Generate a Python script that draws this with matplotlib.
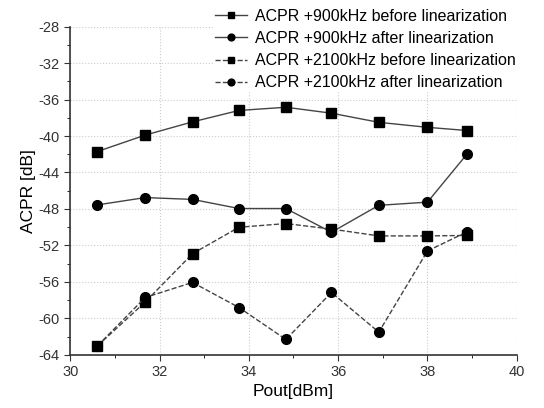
import numpy as np
import matplotlib.pyplot as plt

plt.rcParams['font.family'] = ['Liberation Sans', 'DejaVu Sans']
plt.rcParams['axes.unicode_minus'] = False

# data
pout = [30.61, 31.68, 32.74, 33.78, 34.83, 35.85, 36.91, 38.0, 38.89]
acpr_900_before = [-41.7, -39.9, -38.45, -37.2, -36.85, -37.5, -38.5, -39.05, -39.4]
acpr_900_after = [-47.55, -46.75, -46.95, -47.95, -47.95, -50.55, -47.6, -47.25, -41.95]
acpr_2100_before = [-63.0, -58.2, -52.9, -50.0, -49.6, -50.2, -50.95, -50.95, -50.9]
acpr_2100_after = [-63.0, -57.7, -56.05, -58.8, -62.3, -57.15, -61.5, -52.6, -50.5]

labels = ['ACPR +900kHz before linearization',
          'ACPR +900kHz after linearization',
          'ACPR +2100kHz before linearization',
          'ACPR +2100kHz after linearization']

fig = plt.figure(figsize=(5.44, 4.08), dpi=100)
ax = fig.add_axes([0.129, 0.130, 0.821, 0.805])

lc = '#444444'
ax.plot(pout, acpr_900_before, '-', color=lc, lw=1, marker='s', ms=6.5,
        mfc='black', mec='black', label=labels[0])
ax.plot(pout, acpr_900_after, '-', color=lc, lw=1, marker='o', ms=7,
        mfc='black', mec='black', label=labels[1])
ax.plot(pout, acpr_2100_before, '--', color=lc, lw=1, marker='s', ms=6.5,
        mfc='black', mec='black', label=labels[2])
ax.plot(pout, acpr_2100_after, '--', color=lc, lw=1, marker='o', ms=7,
        mfc='black', mec='black', label=labels[3])

ax.set_xlim(30, 40)
ax.set_ylim(-64, -28)
ax.set_xticks(np.arange(30, 41, 2))
ax.set_xticks(np.arange(31, 40, 2), minor=True)
ax.set_yticks(np.arange(-64, -27, 4))
ax.set_yticks(np.arange(-62, -28, 4), minor=True)
ax.tick_params(which='major', direction='out', length=4, labelsize=10.5,
               colors='#333333')
ax.tick_params(which='minor', direction='out', length=2.5)
ax.grid(True, which='major', color='#cccccc', linestyle=':', lw=0.8)
ax.set_axisbelow(True)

for s in ['top', 'right']:
    ax.spines[s].set_visible(False)
for s in ['left', 'bottom']:
    ax.spines[s].set_color('#333333')
    ax.spines[s].set_linewidth(1.2)

ax.set_xlabel('Pout[dBm]', fontsize=12.5, labelpad=3)
ax.set_ylabel('ACPR [dB]', fontsize=12.5, labelpad=2)

leg = fig.legend(loc='upper left', bbox_to_anchor=(0.385, 0.992), fontsize=11.5,
                 frameon=True, handlelength=2.0, labelspacing=0.45,
                 handletextpad=0.5, borderpad=0.1, borderaxespad=0.25,
                 markerscale=0.7)
leg.get_frame().set_facecolor('white')
leg.get_frame().set_edgecolor('none')
leg.get_frame().set_alpha(1)

fig.savefig('out.png', dpi=100)
